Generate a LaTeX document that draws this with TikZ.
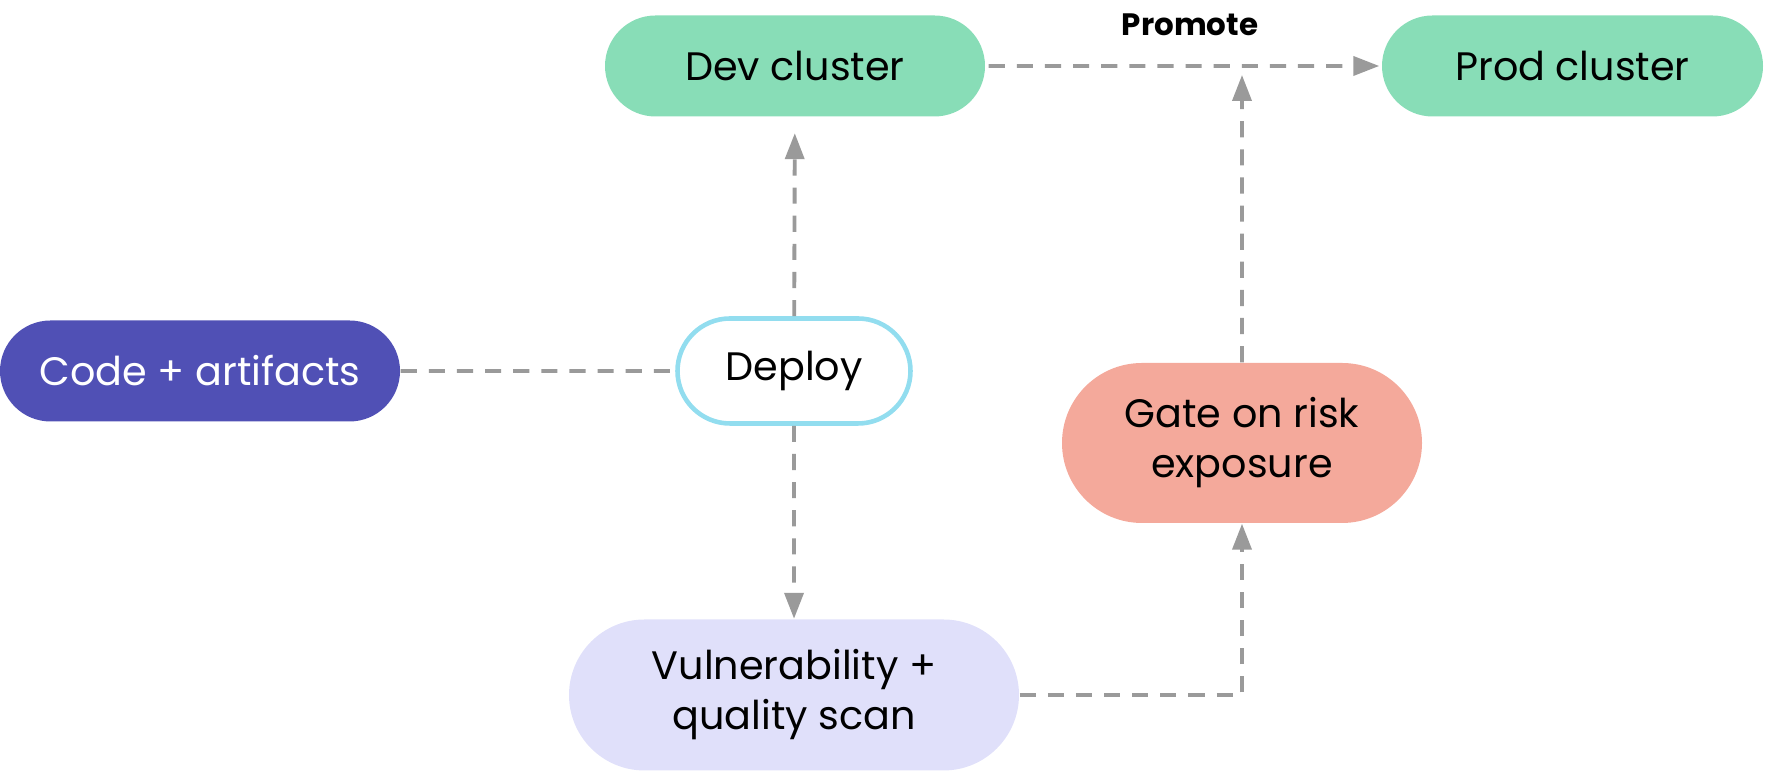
\documentclass[tikz,border=0pt]{standalone}
\usepackage{fontspec}
\setmainfont{Poppins}
\usetikzlibrary{positioning}
\usetikzlibrary{arrows.meta}
\usetikzlibrary{shapes.misc}

\definecolor{clustergreen}{HTML}{88DDB7}
\definecolor{codepurple}{HTML}{5050B5}
\definecolor{deployblue}{HTML}{92DDEF}
\definecolor{gatered}{HTML}{F4A99B}
\definecolor{scanlilac}{HTML}{E0E0FA}
\definecolor{linkgray}{HTML}{9A9A9A}

\begin{document}
\begin{tikzpicture}
  [every node/.style = {rounded rectangle, inner sep=0pt, align=center,
                        font=\fontsize{11.3}{14.2}\selectfont},
   link/.style = {draw=linkgray, line width=1.1pt,
                  dash pattern=on 4.6pt off 3.4pt},
   tip/.style = {-{Triangle[length=7.4pt, width=5.4pt]}}]
  \useasboundingbox (0, 0) rectangle (17.66, -7.72);

  \node (dev) [fill=clustergreen, minimum width=3.8cm, minimum height=1.01cm]
    at (7.95, -0.66) {Dev cluster};
  \node (prod) [fill=clustergreen, minimum width=3.81cm, minimum height=1.01cm]
    at (15.725, -0.66) {Prod cluster};
  \node (code) [fill=codepurple, text=white, minimum width=4cm, minimum height=1.01cm]
    at (2.0, -3.71) {Code + artifacts};
  \node (deploy) [draw=deployblue, line width=1.3pt, fill=white,
                  minimum width=2.33cm, minimum height=1.05cm]
    at (7.94, -3.71) {Deploy};
  \node (gate) [fill=gatered, minimum width=3.6cm, minimum height=1.6cm]
    at (12.42, -4.43) {Gate on risk\\exposure};
  \node (scan) [fill=scanlilac, minimum width=4.5cm, minimum height=1.51cm]
    at (7.94, -6.95) {Vulnerability +\\quality scan};
  \node (promote) [shape=rectangle, font=\bfseries\fontsize{8.8}{11}\selectfont]
    at (11.9, -0.25) {Promote};

  \coordinate (gatetop) at (12.42, -0.75);

  \draw [link] (code) -- (deploy);
  \draw [link, tip, shorten >=0.16cm] (deploy) -- (dev);
  \draw [link, tip] (deploy) -- (scan);
  \draw [link, tip] (scan.east) -| (gate.south);
  \draw [link, tip] (gate) -- (gatetop);
  \draw [link, tip, shorten <=0.03cm, shorten >=0.02cm] (dev) -- (prod);
\end{tikzpicture}
\end{document}
